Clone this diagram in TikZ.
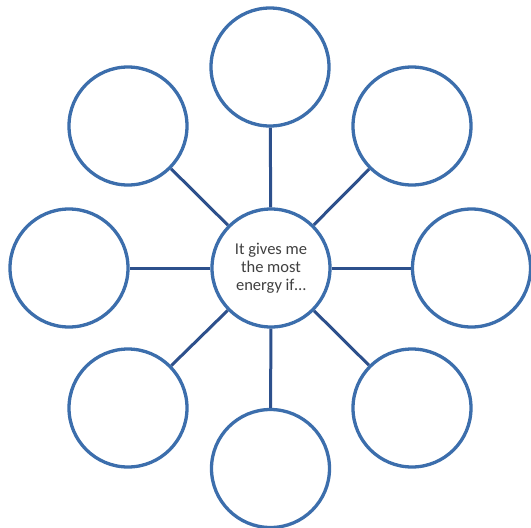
\documentclass[tikz,border=0pt]{standalone}
\usepackage{fontspec}
\setmainfont{Carlito}
\definecolor{ringblue}{RGB}{60,110,172}
\definecolor{linkblue}{RGB}{45,80,140}
\definecolor{txt}{RGB}{64,64,64}
\tikzset{
  bubble/.style={circle, draw=ringblue, line width=3.3pt, fill=white, minimum size=118pt, inner sep=0pt},
  link/.style={draw=linkblue, line width=3pt},
}
\begin{document}
\begin{tikzpicture}[x=1pt,y=-1pt]
\useasboundingbox (0,0) rectangle (531,528);
\node[bubble, align=center, text=txt, font=\fontsize{16.5}{18}\selectfont] (c) at (271,268) {It gives me\\the most\\energy if…};
\node[bubble] (n) at (270,67) {};
\node[bubble] (s) at (270.5,468.5) {};
\node[bubble] (w) at (69,268) {};
\node[bubble] (e) at (471.5,268) {};
\node[bubble] (nw) at (128,126) {};
\node[bubble] (ne) at (412,126) {};
\node[bubble] (sw) at (128,408) {};
\node[bubble] (se) at (412,408) {};
\foreach \t in {n,s,w,e,nw,ne,sw,se}{\path[link] (c) -- (\t);}
\end{tikzpicture}
\end{document}
